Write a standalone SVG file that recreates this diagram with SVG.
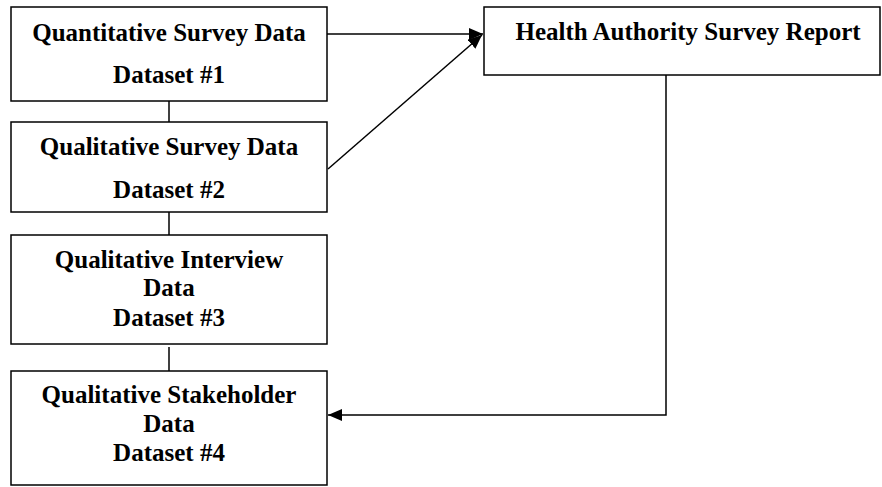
<svg xmlns="http://www.w3.org/2000/svg" width="882" height="487" viewBox="0 0 882 487">
  <style>
    .box { fill: #fff; stroke: #000; stroke-width: 1.5; }
    .lbl { font-family: "Liberation Serif", "Times New Roman", serif; font-weight: bold; font-size: 25px; text-anchor: middle; fill: #000; }
    .wire { fill: none; stroke: #000; stroke-width: 1.5; }
  </style>
  <defs>
    <marker id="arrow" viewBox="0 0 14 12" refX="14" refY="6" markerWidth="14" markerHeight="12" markerUnits="userSpaceOnUse" orient="auto">
      <path d="M0,0 L14,6 L0,12 z" fill="#000"/>
    </marker>
  </defs>

  <g id="connectors">
    <line class="wire" x1="169" y1="101" x2="169" y2="122"/>
    <line class="wire" x1="169" y1="212" x2="169" y2="235"/>
    <line class="wire" x1="169" y1="347" x2="169" y2="371"/>
    <line class="wire" x1="327" y1="34" x2="483" y2="34" marker-end="url(#arrow)"/>
    <line class="wire" x1="328" y1="169" x2="482" y2="35" marker-end="url(#arrow)"/>
    <polyline class="wire" points="666,75 666,415 328,415" marker-end="url(#arrow)"/>
  </g>

  <g id="dataset1">
    <rect class="box" x="11" y="7" width="316" height="94"/>
    <text class="lbl" x="169" y="41">Quantitative Survey Data</text>
    <text class="lbl" x="169" y="83">Dataset #1</text>
  </g>

  <g id="dataset2">
    <rect class="box" x="11" y="122" width="316" height="90"/>
    <text class="lbl" x="169" y="155">Qualitative Survey Data</text>
    <text class="lbl" x="169" y="198">Dataset #2</text>
  </g>

  <g id="dataset3">
    <rect class="box" x="11" y="235" width="316" height="109"/>
    <text class="lbl" x="169" y="268">Qualitative Interview</text>
    <text class="lbl" x="169" y="296">Data</text>
    <text class="lbl" x="169" y="326">Dataset #3</text>
  </g>

  <g id="dataset4">
    <rect class="box" x="11" y="371" width="316" height="114"/>
    <text class="lbl" x="169" y="403">Qualitative Stakeholder</text>
    <text class="lbl" x="169" y="432">Data</text>
    <text class="lbl" x="169" y="461">Dataset #4</text>
  </g>

  <g id="report">
    <rect class="box" x="484" y="7" width="396" height="68"/>
    <text class="lbl" x="688" y="40">Health Authority Survey Report</text>
  </g>
</svg>
